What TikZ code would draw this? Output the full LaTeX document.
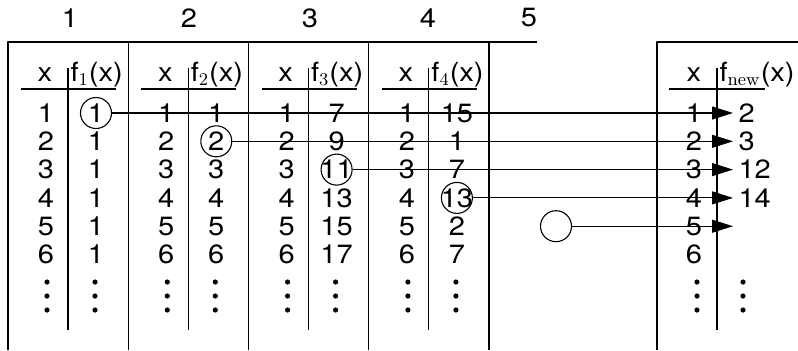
\documentclass[tikz,border=0pt]{standalone}
\usepackage[no-math]{fontspec}
\setmainfont[FakeStretch=1.1]{TeX Gyre Heros}
\usetikzlibrary{arrows.meta}
\tikzset{every picture/.style={line width=0.55pt}}
\begin{document}
\begin{tikzpicture}[x=0.5pt, y=-0.5pt, font=\fontsize{13.2}{15}\selectfont, line join=round, >={Triangle[length=10.5pt,width=6.5pt]},
	pick/.style={circle, draw, minimum size=15.5pt, inner sep=0pt}]
					\useasboundingbox (0,0) rectangle (798,350);
					% frames of the stages
					\draw (8,350)--(8,42)--(537,42) (657,350)--(657,42)--(798,42);
					\foreach \i in {1,...,4}\draw ({8+120.25*\i},42)--({8+120.25*\i},350);
					\foreach \i/\p in {1/70,2/189,3/310,4/428,5/529}\node (s\i) at (\p,18) {\i};
					% the four tables
					\foreach \k/\fl in {1/{1,1,1,1,1,1},2/{1,2,3,4,5,6},3/{7,9,11,13,15,17},4/{15,1,7,13,2,7}}{
						\pgfmathsetmacro\xk{68+120.3*(\k-1)}
						\draw (\xk,68)--(\xk,330) (\xk-47,89)--(\xk+48,89);
						\node (hx\k) at (\xk-23,75) {x};
						\node[anchor=west, inner sep=1pt] (hf\k) at (\xk,75) {f$_\k$(x)};
						\foreach \v [count=\r] in \fl{
							\node (x\k\r) at (\xk-22,{113+28.3*(\r-1)}) {\r};
							\node (f\k\r) at (\xk+28,{113+28.3*(\r-1)}) {\v};
						}
						\foreach \d in {282,296,310}\fill (\xk-21,\d) circle (1.3pt) (\xk+27,\d) circle (1.3pt);
					}
					% new table
					\draw (717,68)--(717,330) (669,89)--(765,89);
					\node (hxn) at (694,75) {x};
					\node[anchor=west, inner sep=1pt] (hfn) at (717,75) {f$_{\mathrm{new}}$(x)};
					\foreach \r in {1,...,6}\node (xn\r) at (694,{113+28.3*(\r-1)}) {\r};
					\foreach \v [count=\r] in {2,3,12,14}\node[anchor=west, inner sep=0pt] (fn\r) at (738,{113+28.3*(\r-1)}) {\v};
					\foreach \d in {282,296,310}\fill (697,\d) circle (1.3pt) (743,\d) circle (1.3pt);
					% picked values
					\node[pick] (c1) at (f11) {};
					\node[pick] (c2) at (f22) {};
					\node[pick] (c3) at (f33) {};
					\node[pick] (c4) at (f44) {};
					\node[pick] (c5) at (556,{113+28.3*4}) {};
					\foreach \r in {1,...,5}{
						\coordinate (t\r) at (733,{113+28.3*(\r-1)});
						\draw[->] (c\r)--(t\r);
					}
				\end{tikzpicture}
\end{document}
